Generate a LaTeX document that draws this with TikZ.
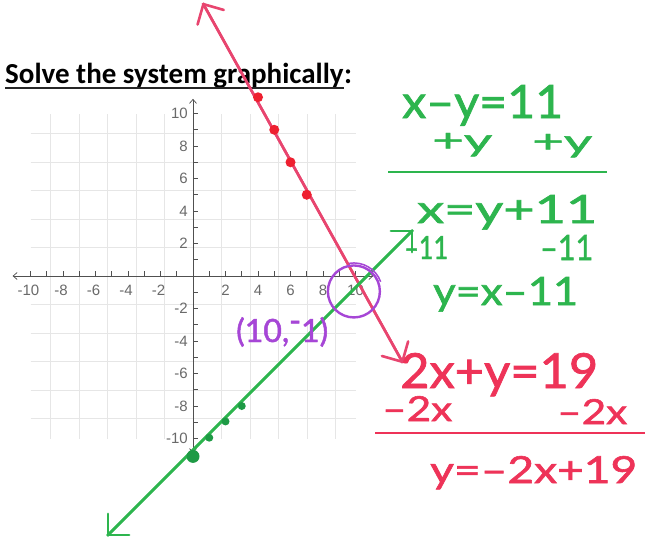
\documentclass[tikz,border=0pt]{standalone}
\usepackage{fontspec}
\usetikzlibrary{arrows.meta}
\newfontfamily\titlefont{Carlito}
\newfontfamily\handfont[FakeBold=1.5]{Lato}
\newfontfamily\axfont{Liberation Sans}
\definecolor{mkgreen}{HTML}{2DB54E}
\definecolor{mkgreendot}{HTML}{1E9A45}
\definecolor{mkred}{HTML}{EE3358}
\definecolor{mkredline}{HTML}{E8456F}
\definecolor{mkreddot}{HTML}{EE2030}
\definecolor{mkpurple}{HTML}{A646D6}
\definecolor{gridgray}{HTML}{E6E6E6}
\definecolor{axgray}{HTML}{505050}
\definecolor{labgray}{HTML}{6A6A6A}
\newcommand{\hw}[3]{\resizebox{#1pt}{#2pt}{\handfont #3}}
\tikzset{
  handtext/.style={inner sep=0pt, anchor=base west},
  greentext/.style={handtext, text=mkgreen},
  redtext/.style={handtext, text=mkred},
  reddot/.style={circle, fill=mkreddot, inner sep=0pt, minimum size=10pt},
  greendot/.style={circle, fill=mkgreendot, inner sep=0pt, minimum size=8pt},
  bigtip/.style={-{Straight Barb[length=15pt,width=30pt,round]}},
  axline/.style={axgray, line width=0.7pt},
  ticklab/.style={font=\axfont\fontsize{15}{15}\selectfont, text=labgray, inner sep=0pt}
}
\begin{document}
\begin{tikzpicture}[x=1pt,y=-1pt]
\useasboundingbox (0,0) rectangle (656,539);
\fill[white] (0,0) rectangle (656,539);

% title
\node[inner sep=0pt, anchor=base west, font=\titlefont\bfseries\fontsize{29}{30}\selectfont] (title) at (5,83) {Solve the system graphically};
\node[inner sep=0pt, anchor=base west, font=\titlefont\bfseries\fontsize{29}{30}\selectfont] (colon) at (title.base east) {:};
\draw[line width=1.8pt, black!85] ([yshift=-5pt]title.base west) -- ([yshift=-5pt]title.base east);

% graph
\begin{scope}[shift={(193,276)}, x=16.25pt, y=16.25pt]
  \draw[gridgray, line width=0.6pt] (-10,-10) grid (10,10);
  \coordinate (xl) at (-11.1,0);
  \coordinate (xr) at (11.1,0);
  \coordinate (yb) at (0,-10.9);
  \coordinate (yt) at (0,10.9);
  \draw[axline, {Straight Barb[length=4pt,width=7pt]}-{Straight Barb[length=4pt,width=7pt]}] (xl) -- (xr);
  \draw[axline, {Straight Barb[length=4pt,width=7pt]}-{Straight Barb[length=4pt,width=7pt]}] (yb) -- (yt);
  \foreach \i in {-10,...,-1,1,2,...,10} {
    \draw[axline, line width=0.6pt] (\i,0) -- ++(0,0.3);
    \draw[axline, line width=0.6pt] (0,\i) -- ++(0.3,0);
  }
  \foreach \i in {-10,-8,-6,-4,-2} {
    \node[ticklab, anchor=base] (xlab\i) at ([xshift=-2pt]\i,-1.17) {\i};
    \node[ticklab, anchor=east] (ylab\i) at ([xshift=-5pt]0,\i) {\i};
  }
  \foreach \i in {2,4,6,8,10} {
    \node[ticklab, anchor=base] (xlab\i) at (\i,-1.17) {\i};
    \node[ticklab, anchor=east] (ylab\i) at ([xshift=-5pt]0,\i) {\i};
  }
  \coordinate (rtop) at (0.6,16.8);
  \coordinate (rbot) at (12.92,-5.35);
  \coordinate (gtop) at (13.54,2.83);
  \coordinate (gbot) at (-5.29,-16.0);
\end{scope}

% lines
\draw[mkredline, line width=2.6pt, bigtip] (rbot) -- (rtop);
\draw[mkredline, line width=2.6pt, bigtip] (rtop) -- (rbot);
\draw[mkgreen, line width=2.6pt, bigtip] (gbot) -- (gtop);
\draw[mkgreen, line width=2.6pt, bigtip] (gtop) -- (gbot);

% points
\begin{scope}[shift={(193,276)}, x=16.25pt, y=16.25pt]
  \node[reddot] (p4) at (4,11) {};
  \node[reddot] (p5) at (5,9) {};
  \node[reddot] (p6) at (6,7) {};
  \node[reddot] (p7) at (7,5) {};
  \node[greendot, minimum size=13pt] (q0) at (0,-11.1) {};
  \node[greendot] (q1) at (1,-9.95) {};
  \node[greendot] (q2) at (2,-8.95) {};
  \node[greendot] (q3) at (3,-8) {};
  \coordinate (sol) at (9.9,-0.95);
\end{scope}

% solution circle and label
\draw[mkpurple, line width=2.4pt] (sol) circle[radius=26];
\draw[mkpurple, line width=1.5pt] (sol) ++(-20:28.5) arc[start angle=-20, end angle=-100, radius=28.5];
\node[handtext, text=mkpurple] (solab) at (236,342) {\resizebox{92pt}{!}{\handfont (10,\raisebox{.32em}{-}1)}};

% green work
\node[greentext] (g1) at (402,118) {\hw{161}{33}{x–y=11}};
\node[greentext] (g2a) at (432,151) {\hw{60}{18}{+y}};
\node[greentext] (g2b) at (532,152) {\hw{60}{18}{+y}};
\draw[mkgreen, line width=2.2pt] (388,172) -- (607,172);
\node[greentext] (g3) at (417,223) {\hw{180}{28}{x=y+11}};
\node[greentext] (g4a) at (404,259) {\hw{44}{23}{–11}};
\node[greentext] (g4b) at (540,260) {\hw{53}{25}{–11}};
\node[greentext] (g5) at (433,305) {\hw{145}{28}{y=x–11}};

% red work
\node[redtext] (r1) at (400,388) {\hw{198}{35}{2x+y=19}};
\node[redtext] (r2a) at (382,421) {\hw{70}{25}{–2x}};
\node[redtext] (r2b) at (557,424) {\hw{70}{25}{–2x}};
\draw[mkred, line width=2.2pt] (375,433) -- (645,433);
\node[redtext] (r3) at (430,483) {\hw{207}{27}{y=–2x+19}};
\end{tikzpicture}
\end{document}
